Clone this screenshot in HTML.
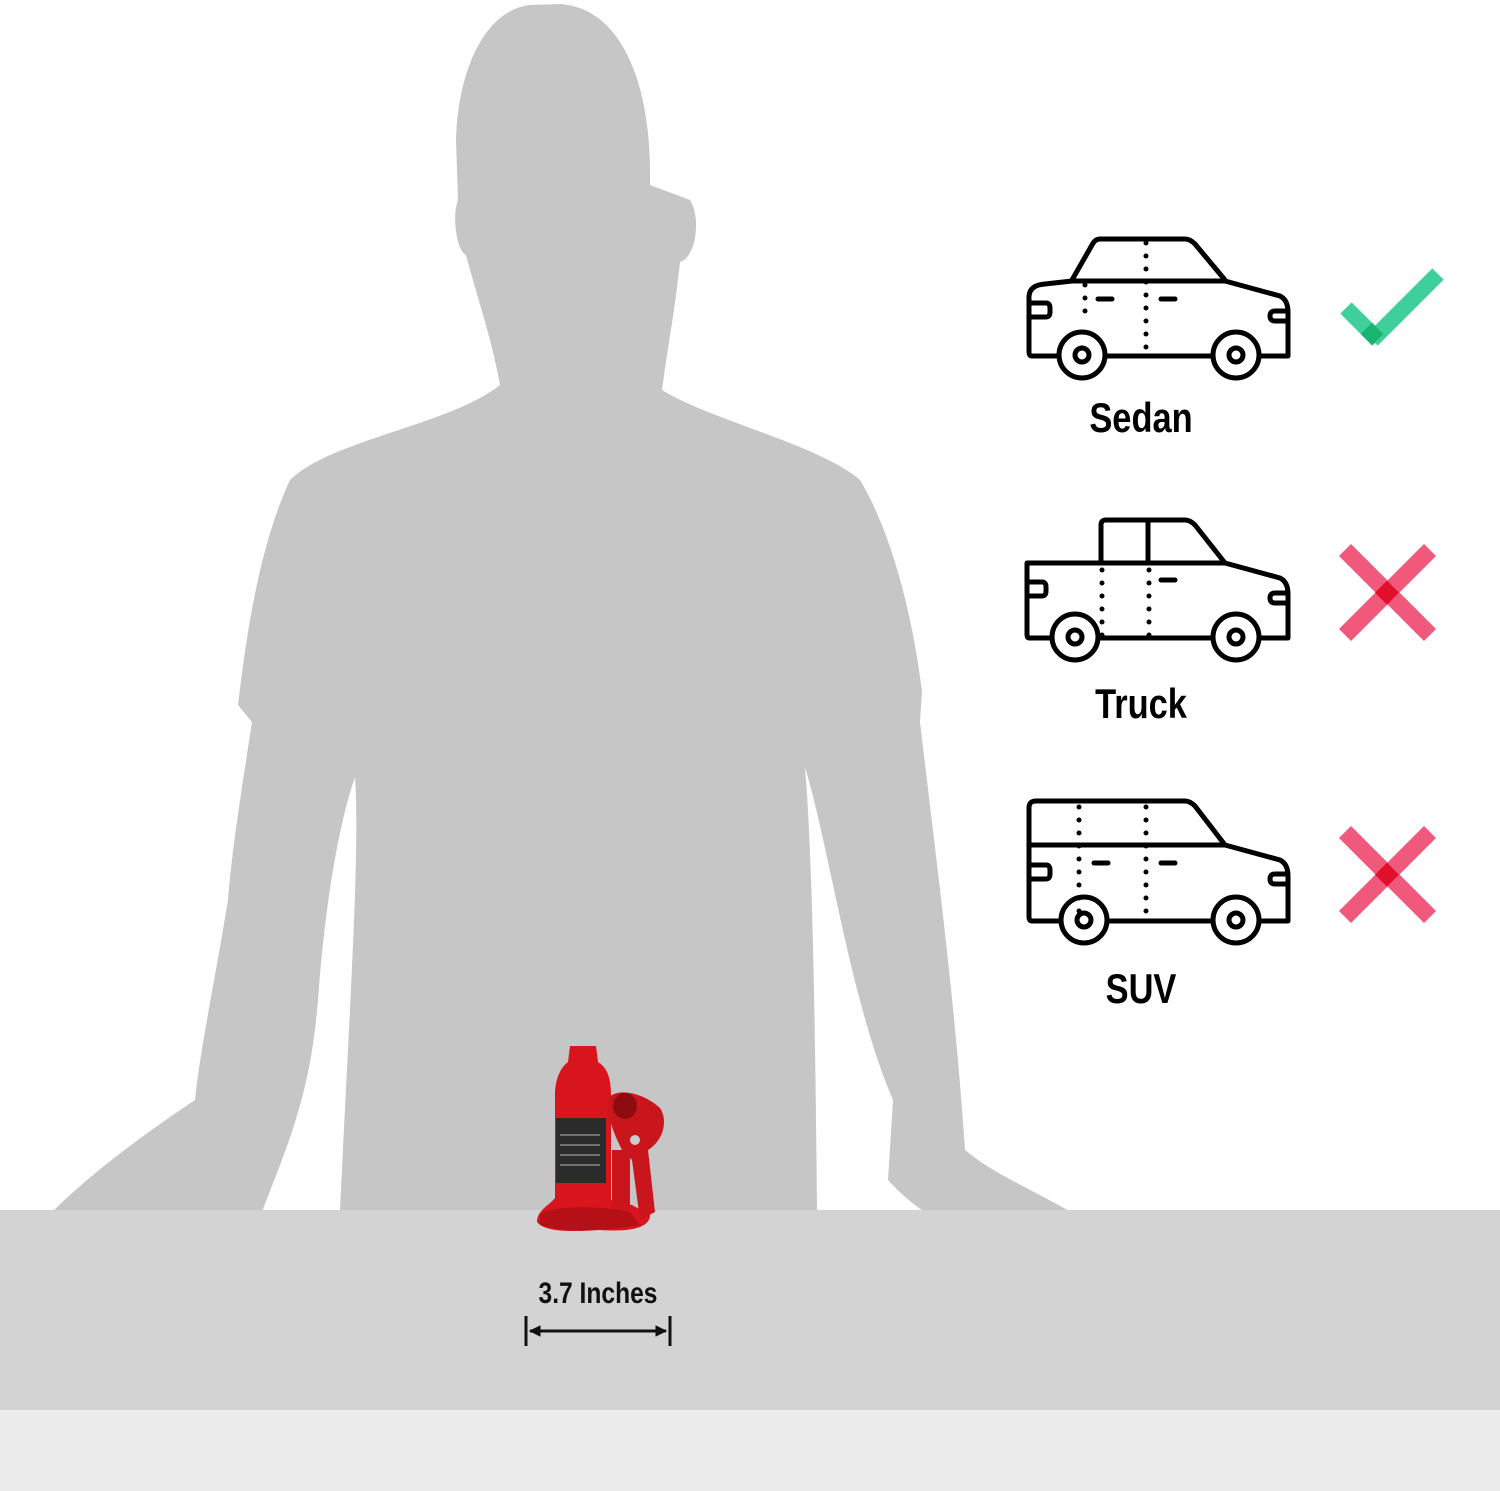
<!DOCTYPE html>
<html><head><meta charset="utf-8"><style>
html,body{margin:0;padding:0;background:#fff;}
svg{display:block}
text{font-family:"Liberation Sans",sans-serif;font-weight:bold}
</style></head><body>
<svg width="1500" height="1491" viewBox="0 0 1500 1491" xmlns="http://www.w3.org/2000/svg">
<rect width="1500" height="1491" fill="#fff"/>
<path fill="#c6c6c6" d="M530 5 C485 10 458 70 456 140 L458 200 C452 215 456 250 466 255 C478 300 492 340 500 385 C450 425 330 440 290 480 C262 540 248 620 238 705 L252 722 C240 800 232 850 228 900 C215 980 200 1050 195 1100 C150 1130 80 1180 40 1225 L60 1235 C110 1240 170 1232 210 1242 L245 1236 L262 1212 C285 1150 310 1100 318 1000 C325 900 340 820 355 777 C360 850 350 1000 340 1210 L817 1210 C815 1000 812 850 805 767 C830 850 850 1000 893 1100 L888 1180 C920 1215 960 1238 1010 1240 L1100 1232 C1060 1200 1000 1180 965 1150 C955 1000 935 850 920 722 L922 692 C912 610 890 530 860 480 C820 445 710 420 662 390 C668 345 675 310 680 262 C695 258 702 220 690 200 L650 185 C652 80 620 8 560 4 Z"/>
<rect x="0" y="1210" width="1500" height="200" fill="#d3d3d3"/>
<rect x="0" y="1410" width="1500" height="81" fill="#ececec"/>
<g>
<path fill="#d8141c" d="M570 1046 L596 1046 L598 1062 C608 1068 611 1080 611 1095 L611 1200 L632 1205 L650 1215 C650 1228 630 1232 600 1230 C570 1232 545 1232 537 1222 C537 1210 550 1205 555 1198 L555 1095 C555 1080 560 1068 568 1062 Z"/>
<rect x="556" y="1118" width="50" height="65" fill="#2b2b2b"/>
<g stroke="#888" stroke-width="1.5"><line x1="560" y1="1135" x2="600" y2="1135"/><line x1="560" y1="1145" x2="600" y2="1145"/><line x1="560" y1="1155" x2="600" y2="1155"/><line x1="560" y1="1165" x2="600" y2="1165"/></g>
<rect x="612" y="1150" width="18" height="60" fill="#c9151b"/>
<path fill="#c9151b" d="M608 1100 C612 1088 640 1090 660 1108 C668 1120 664 1140 648 1150 L655 1212 L640 1220 L632 1160 L622 1150 C612 1130 606 1112 608 1100 Z"/>
<ellipse cx="625" cy="1106" rx="12" ry="13" fill="#8e0c10"/>
<circle cx="635" cy="1140" r="5" fill="#ccc"/>
<path fill="#b50f17" d="M540 1215 C550 1205 600 1205 630 1212 L640 1225 C600 1232 560 1232 540 1225 Z"/>
</g>
<text text-anchor="middle" font-size="30" fill="#111" transform="translate(598 1303) scale(0.82 1)">3.7 Inches</text>
<g stroke="#111" stroke-width="3" fill="#111">
<line x1="526" y1="1316" x2="526" y2="1346"/><line x1="670" y1="1316" x2="670" y2="1346"/>
<line x1="530" y1="1331" x2="666" y2="1331"/>
<path d="M530 1331 L540 1326 L540 1336 Z" stroke-width="1"/><path d="M666 1331 L656 1326 L656 1336 Z" stroke-width="1"/>
</g>
<g fill="none" stroke="#000" stroke-width="5" stroke-linejoin="round" stroke-linecap="round">
<path d="M1072 280 L1092 245 Q1095 239 1100 239 L1185 239 Q1190 239 1195 244 L1225 280"/>
<path d="M1059 356 L1032 356 Q1029 356 1029 352 L1029 296 Q1030 285 1045 284 L1072 281 L1225 281 L1280 296 Q1288 300 1288 312 L1288 356 L1260 356"/>
<line x1="1105" y1="356" x2="1212" y2="356"/>
<circle cx="1082" cy="355" r="23"/><circle cx="1082" cy="355" r="7"/>
<circle cx="1236" cy="355" r="23"/><circle cx="1236" cy="355" r="7"/>
<path d="M1032 303 L1046 303 Q1050 303 1050 308 L1050 312 Q1050 317 1046 317 L1032 317"/>
<path d="M1286 311 L1275 311 Q1270 311 1270 316 Q1270 321 1275 321 L1286 321"/>
<line x1="1098" y1="299" x2="1112" y2="299"/><line x1="1161" y1="299" x2="1175" y2="299"/>
<path d="M1101 563 L1101 525 Q1101 520 1106 520 L1185 520 Q1190 520 1195 525 L1225 563"/>
<line x1="1148" y1="522" x2="1148" y2="563"/>
<path d="M1051 638 L1029 638 Q1027 638 1027 634 L1027 563 L1225 563 L1280 578 Q1288 582 1288 594 L1288 638 L1260 638"/>
<line x1="1099" y1="638" x2="1212" y2="638"/>
<circle cx="1075" cy="637" r="23"/><circle cx="1075" cy="637" r="7"/>
<circle cx="1236" cy="637" r="23"/><circle cx="1236" cy="637" r="7"/>
<path d="M1029 582 L1042 582 Q1046 582 1046 587 L1046 591 Q1046 596 1042 596 L1029 596"/>
<path d="M1286 593 L1275 593 Q1270 593 1270 598 Q1270 603 1275 603 L1286 603"/>
<line x1="1161" y1="580" x2="1175" y2="580"/>
<path d="M1059 921 L1032 921 Q1029 921 1029 917 L1029 808 Q1029 801 1036 801 L1185 801 Q1190 801 1195 806 L1225 845 L1280 860 Q1288 864 1288 876 L1288 921 L1260 921"/>
<line x1="1031" y1="845" x2="1225" y2="845"/>
<line x1="1107" y1="921" x2="1212" y2="921"/>
<circle cx="1084" cy="920" r="23"/><circle cx="1084" cy="920" r="7"/>
<circle cx="1236" cy="920" r="23"/><circle cx="1236" cy="920" r="7"/>
<path d="M1032 865 L1046 865 Q1050 865 1050 870 L1050 874 Q1050 879 1046 879 L1032 879"/>
<path d="M1286 874 L1275 874 Q1270 874 1270 879 Q1270 884 1275 884 L1286 884"/>
<line x1="1094" y1="863" x2="1108" y2="863"/><line x1="1161" y1="863" x2="1175" y2="863"/>
</g>
<g stroke="#000" stroke-width="5" stroke-linecap="round" stroke-dasharray="0 13">
<line x1="1146" y1="243" x2="1146" y2="355"/>
<line x1="1085" y1="285" x2="1085" y2="315"/>
<line x1="1102" y1="570" x2="1102" y2="636"/>
<line x1="1149" y1="570" x2="1149" y2="636"/>
<line x1="1079" y1="807" x2="1079" y2="919"/>
<line x1="1146" y1="807" x2="1146" y2="919"/>
</g>
<text text-anchor="middle" font-size="42" fill="#000" transform="translate(1141 432) scale(0.82 1)">Sedan</text>
<text text-anchor="middle" font-size="42" fill="#000" transform="translate(1141 718) scale(0.82 1)">Truck</text>
<text text-anchor="middle" font-size="42" fill="#000" transform="translate(1141 1003) scale(0.82 1)">SUV</text>
<g stroke="#3ecf9a" stroke-width="16" fill="none">
<line x1="1346" y1="308" x2="1378" y2="340"/><line x1="1372" y1="340" x2="1438" y2="274"/>
</g>
<rect x="1364" y="326" width="16" height="16" fill="#19b472" transform="rotate(45 1372 334)"/>
<g stroke="#f0587c" stroke-width="17">
<line x1="1345" y1="550" x2="1430" y2="635"/><line x1="1430" y1="550" x2="1345" y2="635"/>
<line x1="1345" y1="832" x2="1430" y2="917"/><line x1="1430" y1="832" x2="1345" y2="917"/>
</g>
<rect x="1379" y="584" width="17" height="17" fill="#e0102c" transform="rotate(45 1387 592)"/>
<rect x="1379" y="866" width="17" height="17" fill="#e0102c" transform="rotate(45 1387 874)"/>
</svg>
</body></html>
